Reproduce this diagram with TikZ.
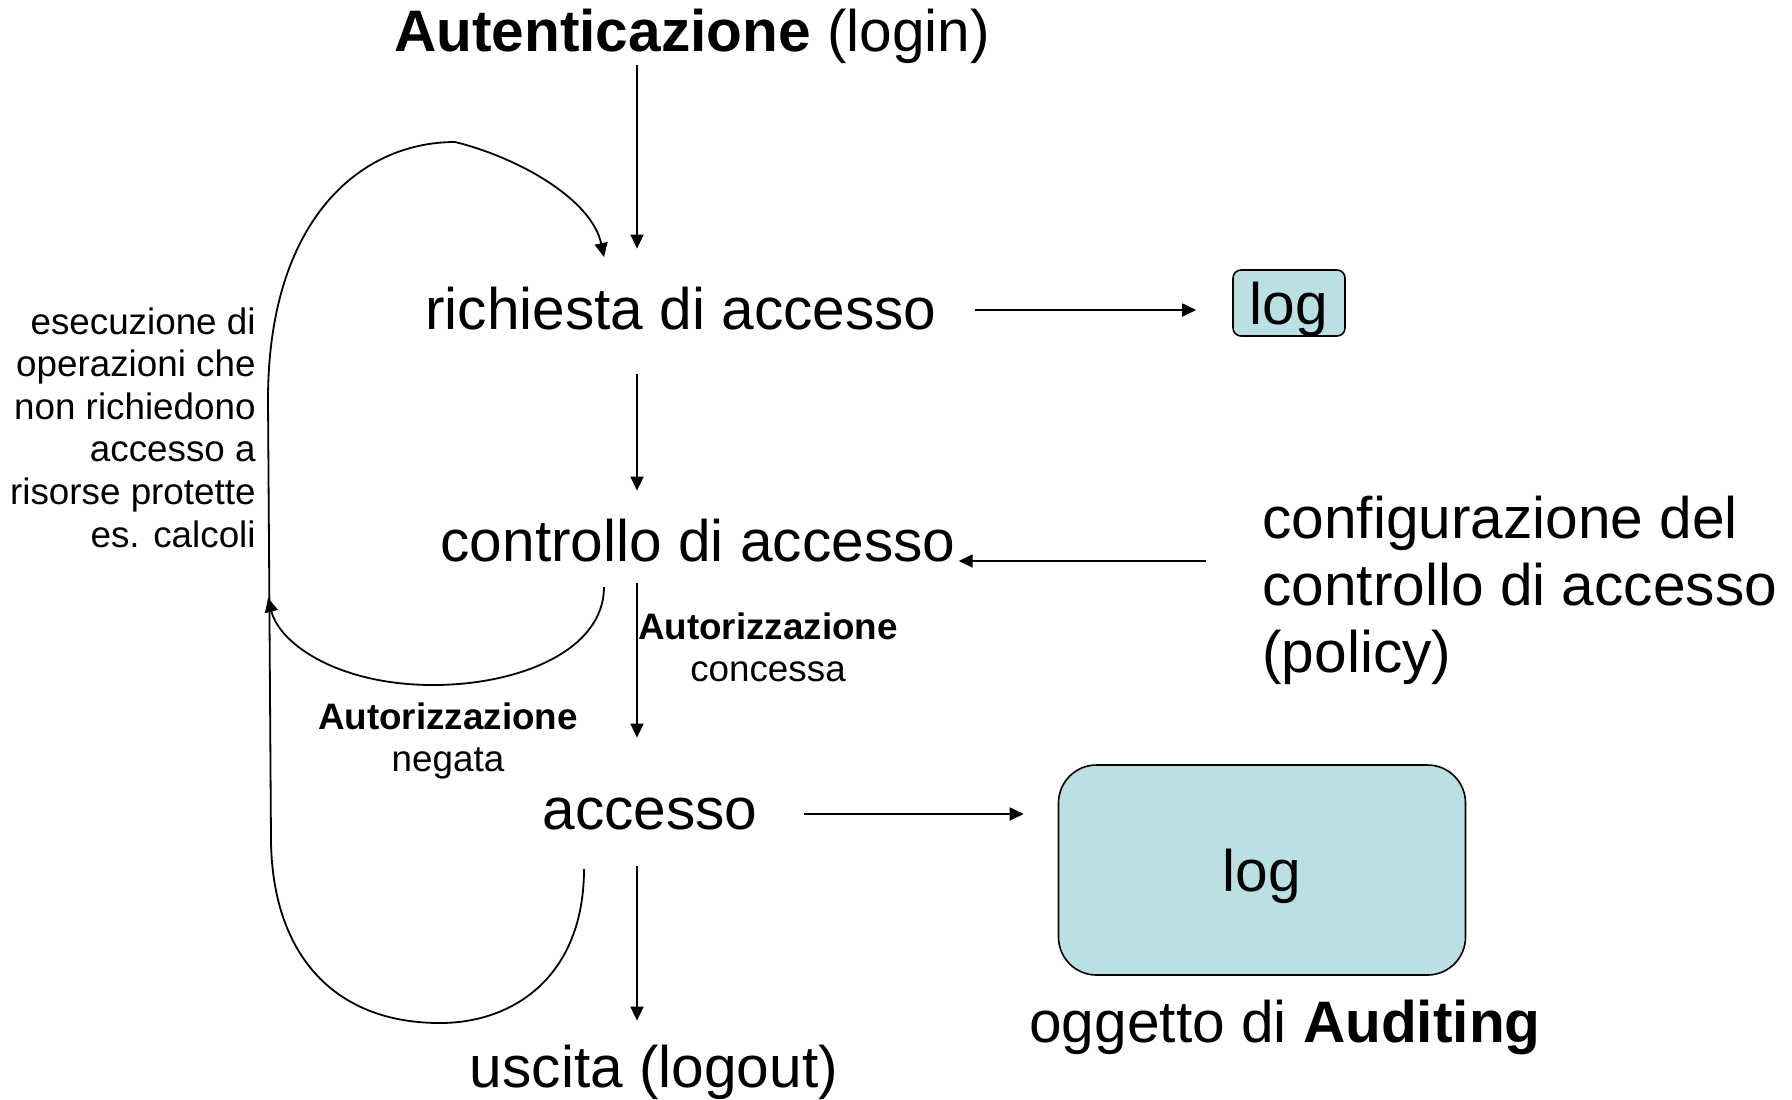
\documentclass[tikz,border=0pt]{standalone}
\usepackage{fontspec}
\setmainfont{Liberation Sans}
\usetikzlibrary{arrows.meta}
\definecolor{logfill}{RGB}{186,224,227}
\newcommand{\grande}{\fontsize{29.3}{33.5}\selectfont}
\newcommand{\piccolo}{\fontsize{18.4}{21.3}\selectfont}

\begin{document}
\begin{tikzpicture}[x=0.5pt,y=-0.5pt,
    every node/.style={inner sep=0pt},
    passo/.style={font=\grande, text height=21pt, text depth=6pt, anchor=base},
    nota/.style={font=\piccolo, align=center, anchor=north},
    logbox/.style={draw, fill=logfill, font=\grande, text height=21pt, text depth=0pt, line width=0.8pt},
    freccia/.style={line width=0.9pt, -{Triangle[length=7pt,width=6.5pt]}},
    curva/.style={line width=0.9pt}]
  \useasboundingbox (0,0) rectangle (1792,1099);

  %passi principali
  \node[passo] (auth) at (692,51) {\bfseries Autenticazione \mdseries (login)};
  \node[passo] (req) at (681,329) {richiesta di accesso};
  \node[passo] (ctrl) at (698,561) {controllo di accesso};
  \node[passo] (acc) at (650,829) {accesso};
  \node[passo] (out) at (654,1087) {uscita (logout)};

  %log
  \node[logbox, minimum width=56pt, minimum height=33pt, rounded corners=4pt] (logA) at (1289,303) {log};
  \node[logbox, minimum width=203.5pt, minimum height=105pt, rounded corners=19pt] (logB) at (1262,870) {log};
  \node[passo] (audit) at (1285,1042) {oggetto di \textbf{Auditing}};

  %testi
  \node[font=\grande, align=left, anchor=north west] (cfg) at (1262,496)
    {configurazione del\\controllo di accesso\\(policy)};
  \node[font=\piccolo, align=right, anchor=north east] (calc) at (256,307)
    {esecuzione di\\operazioni che\\non richiedono\\accesso a\\risorse protette\\es. calcoli};
  \node[nota] (ok) at (768,612) {\textbf{Autorizzazione}\\concessa};
  \node[nota] (no) at (448,702) {\textbf{Autorizzazione}\\negata};

  \coordinate (spine) at (637,0);
  \coordinate (loopS) at (584,869);
  \coordinate (loopE) at (604,257);
  \coordinate (negS) at (604,587);
  \coordinate (negE) at (268,598);

  %frecce verticali
  \draw[freccia, shorten <=1pt, shorten >=19pt] (auth.south -| spine) -- (req.north -| spine);
  \draw[freccia, shorten <=16.5pt, shorten >=14pt] (req.south -| spine) -- (ctrl.north -| spine);
  \draw[freccia, shorten <=5pt, shorten >=24.5pt] (ctrl.south -| spine) -- (acc.north -| spine);
  \draw[freccia, shorten <=12.5pt, shorten >=12pt] (acc.south -| spine) -- (out.north -| spine);

  %frecce orizzontali
  \draw[freccia, shorten <=19pt, shorten >=18pt] ([yshift=2pt]req.east) -- ([yshift=2pt]req.east -| logA.west);
  \draw[freccia, shorten <=28pt, shorten >=1.5pt] (cfg.west |- ctrl.base east) -- (ctrl.base east);
  \draw[freccia, shorten <=23pt, shorten >=17pt] (acc.east) -- (acc.east -| logB.west);

  %curve
  \draw[curva] (loopS) .. controls (584,975) and (515,1023) .. (440,1023)
    .. controls (330,1023) and (272,950) .. (271,840) -- (268,400)
    .. controls (268,220) and (360,142) .. (455,142);
  \draw[freccia] (455,142) .. controls (520,158) and (592,200) .. (loopE);
  \draw[freccia] (negS) .. controls (604,650) and (520,685) .. (433,685)
    .. controls (340,685) and (280,645) .. (negE);
\end{tikzpicture}
\end{document}
